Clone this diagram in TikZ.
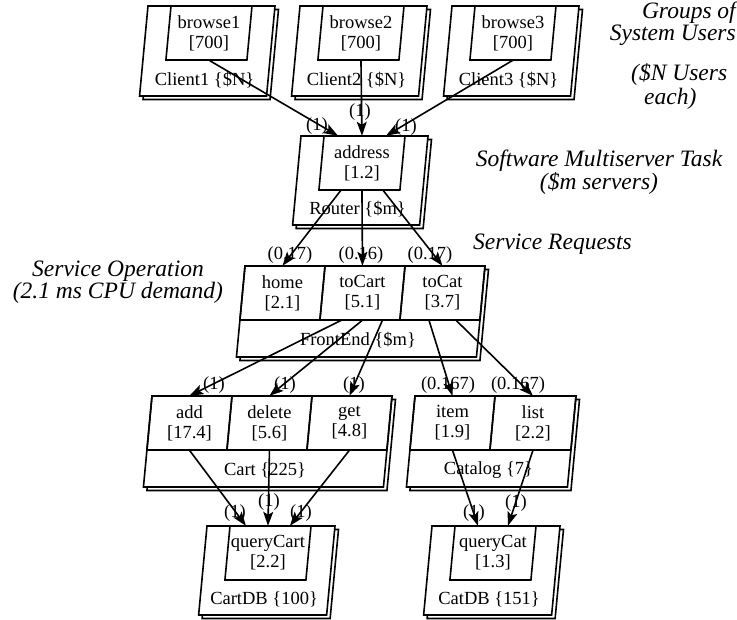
\documentclass[tikz,border=0pt]{standalone}
\usepackage{fontspec}
\setmainfont{Liberation Serif}
\usetikzlibrary{arrows.meta}

% horizontal lean of every box per unit of height
\newcommand\lqnslant{0.094}
\newcommand\lqnfont{\fontsize{18.5}{20}\selectfont}
\newcommand\notefont{\fontsize{23.5}{22}\selectfont\itshape}

% task: name, x, y (top left), width, height, label
\newcommand\lqntask[6]{%
  \node[taskbody, minimum width=#4pt, minimum height=#5pt] (#1) at ({#2+#4/2-\lqnslant*#5/2},{#3+#5/2}) {};
  \draw[boxline, fill=white] ({#2+3.5},{#3+3.5}) -- ++(#4,0) -- ++({-\lqnslant*#5},#5) -- ++(-#4,0) -- cycle;
  \draw[boxline, fill=white] (#2,#3) -- ++(#4,0) -- ++({-\lqnslant*#5},#5) -- ++(-#4,0) -- cycle;
  \node[tasklabel] (#1-label) at ({#2+#4/2-\lqnslant*((#5+54)/2+2)},{#3+(#5+54)/2+2}) {#6};
}
% entry: name, x, y (top left), width, height, text
\newcommand\lqnentry[6]{%
  \node[entrytext, minimum width=#4pt, minimum height=#5pt] (#1) at ({#2+#4/2-\lqnslant*#5/2},{#3+#5/2}) {#6};
  \draw[boxline] (#2,#3) -- ++(#4,0) -- ++({-\lqnslant*#5},#5) -- ++(-#4,0) -- cycle;
}

\begin{document}
\begin{tikzpicture}[x={(1pt,0pt)}, y={(0pt,-1pt)},
  boxline/.style={draw=black, line width=1.6pt, line join=miter},
  taskbody/.style={rectangle, inner sep=0pt, draw=none},
  entrytext/.style={rectangle, inner sep=0pt, align=center, font=\lqnfont},
  tasklabel/.style={inner sep=0pt, font=\lqnfont},
  calllabel/.style={inner sep=0pt, font=\lqnfont},
  note/.style={inner sep=0pt, font=\notefont},
  call/.style={line width=1.6pt, -{Stealth[length=14pt,width=10pt,inset=3pt]}},
]
\useasboundingbox (0,0) rectangle (737,620);

% reference tasks (clients)
\lqntask{Client1}{148}{6}{127}{90}{Client1 {\{\$N\}}}
\lqnentry{browse1}{171}{6}{81}{54}{browse1\\{}[700]}
\lqntask{Client2}{300}{6}{127}{90}{Client2 {\{\$N\}}}
\lqnentry{browse2}{323}{6}{81}{54}{browse2\\{}[700]}
\lqntask{Client3}{452}{6}{127}{90}{Client3 {\{\$N\}}}
\lqnentry{browse3}{475}{6}{81}{54}{browse3\\{}[700]}

% router
\lqntask{Router}{301}{136}{127}{89}{Router {\{\$m\}}}
\lqnentry{address}{324}{136}{81}{54}{address\\{}[1.2]}

% front end
\lqntask{FrontEnd}{245}{266}{240}{91}{FrontEnd {\{\$m\}}}
\lqnentry{home}{245}{266}{80}{54}{home\\{}[2.1]}
\lqnentry{toCart}{325}{266}{80}{54}{toCart\\{}[5.1]}
\lqnentry{toCat}{405}{266}{80}{54}{toCat\\{}[3.7]}

% cart and catalog
\lqntask{Cart}{152}{396}{240}{91}{Cart {\{225\}}}
\lqnentry{add}{152}{396}{80}{54}{add\\{}[17.4]}
\lqnentry{delete}{232}{396}{80}{54}{delete\\{}[5.6]}
\lqnentry{get}{312}{396}{80}{54}{get\\{}[4.8]}
\lqntask{Catalog}{415}{396}{161}{91}{Catalog {\{7\}}}
\lqnentry{item}{415}{396}{80}{54}{item\\{}[1.9]}
\lqnentry{list}{495}{396}{81}{54}{list\\{}[2.2]}

% databases
\lqntask{CartDB}{207}{526}{128}{89}{CartDB {\{100\}}}
\lqnentry{queryCart}{230}{526}{81}{54}{queryCart\\{}[2.2]}
\lqntask{CatDB}{432}{526}{128}{89}{CatDB {\{151\}}}
\lqnentry{queryCat}{455}{526}{81}{54}{queryCat\\{}[1.3]}

% calls
\draw[call] (browse1.south) -- ([xshift=-24pt]address.north);
\draw[call] (browse2.south) -- (address.north);
\draw[call] (browse3.south) -- ([xshift=24pt]address.north);
\draw[call] ([xshift=-21pt]address.south) -- (home.north);
\draw[call] (address.south) -- (toCart.north);
\draw[call] ([xshift=21pt]address.south) -- (toCat.north);
\draw[call] ([xshift=-21pt]toCart.south) -- (add.north);
\draw[call] (toCart.south) -- (delete.north);
\draw[call] ([xshift=20pt]toCart.south) -- (get.north);
\draw[call] ([xshift=-13.5pt]toCat.south) -- (item.north);
\draw[call] ([xshift=13.5pt]toCat.south) -- (list.north);
\draw[call] (add.south) -- ([xshift=-22pt]queryCart.north);
\draw[call] (delete.south) -- (queryCart.north);
\draw[call] (get.south) -- ([xshift=22pt]queryCart.north);
\draw[call] (item.south) -- ([xshift=-15pt]queryCat.north);
\draw[call] (list.south) -- ([xshift=15pt]queryCat.north);

% call rates
\node[calllabel] (r1) at (317,126) {(1)};
\node[calllabel] (r2) at (360,112) {(1)};
\node[calllabel] (r3) at (406,127) {(1)};
\node[calllabel] (r4) at (290,255) {(0.17)};
\node[calllabel] (r5) at (361,255) {(0.16)};
\node[calllabel] (r6) at (430,255) {(0.17)};
\node[calllabel] (r7) at (214,385) {(1)};
\node[calllabel] (r8) at (285,385) {(1)};
\node[calllabel] (r9) at (354,385) {(1)};
\node[calllabel] (r10) at (448,385) {(0.167)};
\node[calllabel] (r11) at (518,385) {(0.167)};
\node[calllabel] (r12) at (235,513) {(1)};
\node[calllabel] (r13) at (269,502) {(1)};
\node[calllabel] (r14) at (301,513) {(1)};
\node[calllabel] (r15) at (474,513) {(1)};
\node[calllabel] (r16) at (516,503) {(1)};

% annotations
\node[note, align=right, anchor=north east] (n1) at (736,2) {Groups of\\System Users};
\node[note, align=left, anchor=north west, font=\fontsize{23.5}{24}\selectfont\itshape] (n2) at (631,63) {(\$N Users\\\hspace*{13pt}each)};
\node[note, align=center] (n3) at (599,172) {Software Multiserver Task\\(\$m servers)};
\node[note, anchor=west] (n4) at (473,244) {Service Requests};
\node[note, align=center] (n5) at (118,282) {Service Operation\\(2.1 ms CPU demand)};
\end{tikzpicture}
\end{document}
